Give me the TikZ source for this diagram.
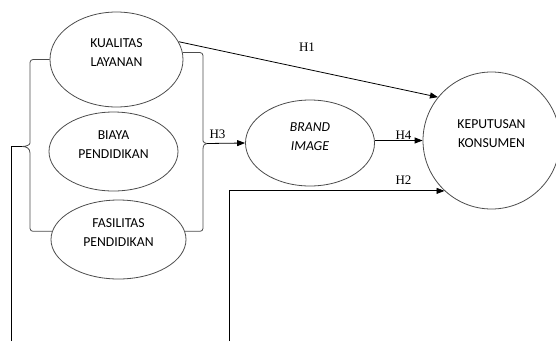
\documentclass[tikz,border=0pt]{standalone}
\usepackage{fontspec}
\setmainfont{Liberation Serif}
\newfontfamily\calfont{Carlito}
\usetikzlibrary{shapes.geometric,arrows.meta}

\begin{document}
\begin{tikzpicture}
[x=1pt,y=-1pt,
  vardecorate/.style={shape=ellipse,draw=black!70,line width=0.8pt,inner sep=0pt},
  vartext/.style={font=\calfont\fontsize{13.7}{19}\selectfont,align=center,yshift=6.5pt},
  bracedecorate/.style={draw=black!70,line width=0.8pt},
  linedecorate/.style={draw=black,line width=0.8pt},
  arrowdecorate/.style={linedecorate,-{Triangle[length=8pt,width=6pt]}},
  hypdecorate/.style={font=\fontsize{13}{15}\selectfont,inner sep=0pt}]
\useasboundingbox (0,0) rectangle (556,341);
%% variables
\foreach \nodename/\x/\y/\w/\h/\txt in {
  kl/116.5/59.5/133/95/{KUALITAS\\LAYANAN},
  bp/113.5/151.5/129/79/{BIAYA\\PENDIDIKAN},
  fp/118.5/239.5/135/79/{FASILITAS\\PENDIDIKAN},
  bi/310/143/129/86/{\textit{BRAND}\\\textit{IMAGE}}}
{
  \node (\nodename) at (\x,\y) [vardecorate,minimum width=\w,minimum height=\h,
    label={[vartext]center:\txt}] {};
}
\node (kk) at (491.5,140.5) [vardecorate,shape=circle,minimum size=137,
  label={[vartext]center:KEPUTUSAN\\KONSUMEN}] {};
%% brace ends
\coordinate (ltip) at (22,146.5);
\coordinate (rtip) at (207,143.5);
\coordinate (lfoot) at (11,341);
\coordinate (h2foot) at (229,341);
%% braces
\draw[bracedecorate,rounded corners=3pt] (kl.west) -| (30,140) [sharp corners]
  .. controls (30,145) and (26,146.5) .. (ltip)
  .. controls (26,146.5) and (30,148) .. (30,153) [rounded corners=3pt] |- (fp.173);
\draw[bracedecorate,rounded corners=3pt] (kl.6) -| (203,138) [sharp corners]
  .. controls (203,142) and (205,143.5) .. (rtip)
  .. controls (205,143.5) and (203,145) .. (203,149) [rounded corners=3pt] |- (fp.7);
%% lines
\draw[linedecorate] (lfoot) |- (ltip);
\draw[arrowdecorate] (rtip) -- (bi.west);
\draw[arrowdecorate] (kl.16) -- (kk.141);
\draw[arrowdecorate] (bi.east |- kk.west) -- (kk.west);
\draw[arrowdecorate] (h2foot) |- (kk.227);
%% hypotheses
\foreach \hname/\x/\y in {H1/307/47, H2/403.5/180.5, H3/217.5/134.5, H4/403.5/135}
{
  \node (\hname) at (\x,\y) [hypdecorate] {\hname};
}
\end{tikzpicture}
\end{document}
